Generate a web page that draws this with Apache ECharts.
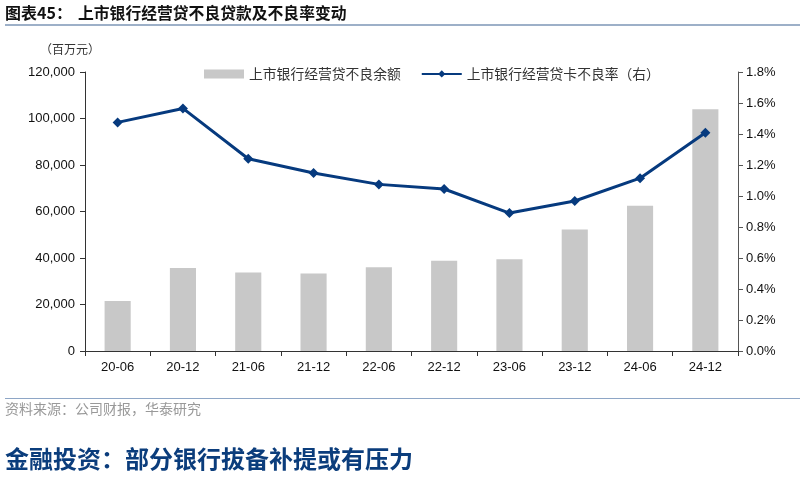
<!DOCTYPE html>
<html><head><meta charset="utf-8">
<script src="https://cdn.jsdelivr.net/npm/echarts@6/dist/echarts.min.js"></script>
<style>html,body{margin:0;padding:0;background:#fff}#c{width:800px;height:479px}</style>
</head><body><div id="c"></div>
<script>
const categories = ['20-06','20-12','21-06','21-12','22-06','22-12','23-06','23-12','24-06','24-12'];
const balance = [21500, 35700, 33800, 33300, 36000, 38800, 39500, 52300, 62500, 104000];
const ratio = [1.475, 1.565, 1.24, 1.148, 1.075, 1.045, 0.89, 0.968, 1.115, 1.408];
const leftTicks = [0, 20000, 40000, 60000, 80000, 100000, 120000];
const cjk = '"Noto Sans CJK SC", sans-serif';
const latin = '"Liberation Sans", Arial, sans-serif';
const chart = echarts.init(document.getElementById('c'));
chart.setOption({
  animation: false,
  textStyle: {fontFamily: latin},
  grid: {left: 85, right: 62, top: 72, bottom: 128},
  legend: {
    left: 199, top: 62, itemGap: 20, itemWidth: 40, itemHeight: 9,
    textStyle: {fontFamily: cjk, fontSize: 13.8, color: '#333'},
    data: [{name: '上市银行经营贷不良余额', icon: 'rect'}, {name: '上市银行经营贷卡不良率（右）'}]
  },
  xAxis: {
    type: 'category', data: categories,
    axisLine: {lineStyle: {color: '#333'}},
    axisTick: {show: true, length: 5, lineStyle: {color: '#333'}},
    axisLabel: {fontSize: 13, color: '#111', margin: 10, fontFamily: latin}
  },
  yAxis: [{
    type: 'value', min: 0, max: 120000, interval: 20000,
    axisLine: {show: true, lineStyle: {color: '#333'}},
    axisTick: {show: true, length: 5, lineStyle: {color: '#333'}},
    splitLine: {show: false},
    axisLabel: {fontSize: 13, color: '#111', margin: 10, fontFamily: latin,
      formatter: v => v.toLocaleString('en-US')}
  }, {
    type: 'value', min: 0, max: 1.8, interval: 0.2,
    axisLine: {show: true, lineStyle: {color: '#555'}},
    axisTick: {show: true, length: 5, lineStyle: {color: '#555'}},
    splitLine: {show: false},
    axisLabel: {fontSize: 13, color: '#111', margin: 8, fontFamily: latin,
      formatter: v => v.toFixed(1) + '%'}
  }],
  series: [{
    name: '上市银行经营贷不良余额', type: 'bar', data: balance, barWidth: '40%',
    itemStyle: {color: '#c8c8c8'}
  }, {
    name: '上市银行经营贷卡不良率（右）', type: 'line', yAxisIndex: 1, data: ratio,
    symbol: 'diamond', symbolSize: 10,
    lineStyle: {color: '#063a7e', width: 3}, itemStyle: {color: '#063a7e'}
  }],
  graphic: [
    {type: 'text', left: 5, top: 5, style: {text: '图表45：', font: 'bold 16px ' + cjk, fill: '#111'}},
    {type: 'text', left: 78, top: 5, style: {text: '上市银行经营贷不良贷款及不良率变动', font: 'bold 15.8px ' + cjk, fill: '#111'}},
    {type: 'rect', shape: {x: 5, y: 24, width: 795, height: 2}, style: {fill: '#9db0c8'}},
    {type: 'text', left: 40, top: 43, style: {text: '（百万元）', font: '12px ' + cjk, fill: '#333'}},
    {type: 'rect', shape: {x: 5, y: 398, width: 795, height: 1}, style: {fill: '#8ea6c6'}},
    {type: 'text', left: 5, top: 402, style: {text: '资料来源：公司财报，华泰研究', font: '14px ' + cjk, fill: '#999'}},
    {type: 'text', left: 5, top: 447, style: {text: '金融投资：部分银行拔备补提或有压力', font: 'bold 24px ' + cjk, fill: '#0b3d7c'}}
  ]
});
</script></body></html>
